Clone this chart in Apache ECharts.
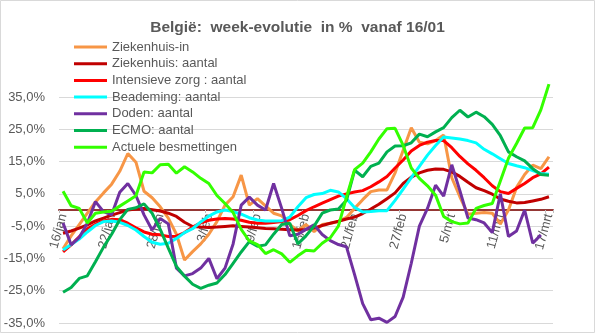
<!DOCTYPE html>
<html>
<head>
<meta charset="utf-8">
<script src="https://cdn.jsdelivr.net/npm/echarts@6/dist/echarts.min.js"></script>
<style>
html,body{margin:0;padding:0;background:#fff;}
#chart{width:595px;height:333px;}
</style>
</head>
<body>
<div id="chart"></div>
<script>
const categories = ['16/jan','17/jan','18/jan','19/jan','20/jan','21/jan','22/jan','23/jan','24/jan','25/jan','26/jan','27/jan','28/jan','29/jan','30/jan','31/jan',
'1/feb','2/feb','3/feb','4/feb','5/feb','6/feb','7/feb','8/feb','9/feb','10/feb','11/feb','12/feb','13/feb','14/feb','15/feb','16/feb','17/feb','18/feb','19/feb','20/feb','21/feb','22/feb','23/feb','24/feb','25/feb','26/feb','27/feb','28/feb',
'1/mrt','2/mrt','3/mrt','4/mrt','5/mrt','6/mrt','7/mrt','8/mrt','9/mrt','10/mrt','11/mrt','12/mrt','13/mrt','14/mrt','15/mrt','16/mrt','17/mrt'];

const ziekenhuisIn = [-12,-8,-4.5,-1,2.5,5.3,8,12,17.5,14.8, 5.8,3.8,1,-2.5,-7.5,-15.5,-12.9,-10.5,-7.5,-3.6, 1.5,4.1,10.8,1.5,3.5,1.3,-1,-1.8,-4.5,-6.5, -4.5,-6.7,-4.5,-4.1,-3.6,-2.3,0.5,3.2,5.7,6.2, 6.2,11.5,18.5,25.5,21,20.5,21.5,23.2,10,4.1, -1.3,-1,-0.8,-1,-4.3,0,7,11,13.9,12.8,16.5];
const ziekenhuisAantal = [-7.2,-6.5,-5.6,-4.6,-3.4,-2.5,-1.6,-0.8,0,0.3, 0.5,0.1,-0.3,-1,-2,-3.8,-5.1,-5.3,-5.4,-5.3, -5.1,-4.9,-5.1,-5.3,-5.5,-5.7,-5.8,-6,-6.1,-6.2, -6,-5.6,-4.8,-4.1,-3.5,-2.8,-2.2,-1.1,0.3,1.8, 3.5,5.3,8.2,10.2,11.5,12.3,12.7,12.6,11.8,10.4, 8.6,6.9,6,4.9,3.4,2.7,2.2,2.3,2.8,3.3,4.1];
const intensieveZorg = [-13,-10.8,-8.3,-5.8,-4.4,-3.4,-2.9,-3,-4.1,-5.5, -6.8,-7.5,-7.7,-8.2,-8.1,-7,-5.3,-4,-3.2,-2.8, -2.6,-2.8,-3.2,-3.8,-4.1,-4.1,-3.9,-3.6,-3,-1.7, -0.2,1,2.1,3.2,4.3,5,5.6,6,7.2,8.7, 10.4,13,15.5,18.3,20,21,21.5,21.5,19.3,16.6, 14.3,12.3,10,7.5,5.7,5.1,6.7,8.2,10,11.2,13.3];
const beademing = [-12.4,-10.7,-9,-6.8,-4.8,-3.6,-3.4,-3.8,-4.8,-6.2, -8.2,-10,-10.6,-10.3,-8.8,-7,-5.8,-3.7,-1.9,-0.6, 0,-0.5,-1.3,-2.4,-3.1,-3.4,-3.4,-3.3,-2.2,1, 3.8,4.8,5.1,6.1,5.6,3.5,0.8,-0.6,-0.5,-0.2, -0.2,3,6.5,10,13.5,17,20,22.6,22.3,22, 21.5,20.8,18.8,17.4,15.9,14.4,13.7,13.1,12.2,11.3,11.1];
const doden = [-4,-10.8,-8.5,-4.1,2.6,-0.5,-1.5,5.5,8.2,4.5, -1.5,-6.2,-2.6,-4.3,-18,-20.4,-19.7,-18,-15,-21.3, -18,-10.5,1.5,4,1.5,0,8.2,0.5,-8,-7.5, -6,-4.6,-7.6,-9.5,-10.7,-11.4,-20,-29,-34,-33.5, -34.8,-33,-27,-16.5,-5,0.5,7.7,4.3,14,6, -2.5,-3,-4,-7,5,-8.2,-6.5,0,-10.3,-7.7,null];
const ecmo = [-25.5,-24,-21.2,-20.4,-16,-11.5,-7.5,-3,0.2,0.7, 1.9,-1,-6,-11.8,-17.5,-20.5,-23,-24.3,-23.3,-22.6, -20,-16.5,-13,-9.8,-11.2,-10.8,-7.5,-4.5,-4.1,-10.5, -8,-5,-1,0,0.3,3,12.3,10.3,13.5,14.5, 18,19.8,19.9,20.8,23.5,22.7,24.2,25.5,28.6,30.9, 28.8,30.3,28.9,26.5,23,18,16.5,15.2,12.8,11,10.8];
const besmettingen = [5.8,1.3,0.5,-4,-1,-0.6,-0.4,1.2,2.8,4.4, 11.8,11.5,14,14.2,11.4,13.4,11.8,9.8,8.2,4.5, 2,-0.8,-6,-9.6,-10.7,-13.5,-12.3,-13.6,-16.2,-14.2, -12.5,-12.7,-10.3,-8.6,-5,4,12.5,14.5,18,22, 25.2,25.3,20,13,9.8,7.5,4.6,-2,-3.6,-4.3, -4,0.5,1.4,2,9,16,20.6,25.4,25.5,31,39];

const seriesNames = ['Ziekenhuis-in','Ziekenhuis: aantal','Intensieve zorg : aantal','Beademing: aantal','Doden: aantal','ECMO: aantal','Actuele besmettingen'];
const seriesData = [ziekenhuisIn, ziekenhuisAantal, intensieveZorg, beademing, doden, ecmo, besmettingen];
const seriesColors = ['#F79646','#C00000','#FF0000','#00FFFF','#7030A0','#00B050','#33FF00'];

const FONT = '"Liberation Sans", Arial, sans-serif';
const TXT = '#595959';
const Y_MIN = -35, Y_MAX = 35;
const GRID_TOP = 97, GRID_BOTTOM = 10, H = 333;

// place the category axis at value 0 (as in the original), via offset
const plotH = H - GRID_TOP - GRID_BOTTOM;
const zeroOffset = -plotH * (0 - Y_MIN) / (Y_MAX - Y_MIN);

const chart = echarts.init(document.getElementById('chart'), null, {renderer:'canvas'});
chart.setOption({
  animation:false,
  backgroundColor:'#fff',
  textStyle:{fontFamily:FONT},
  title:{
    text:'België:  week-evolutie  in %  vanaf 16/01',
    left:'center', top:15,
    textStyle:{fontFamily:FONT, fontSize:15.5, fontWeight:'bold', color:TXT}
  },
  graphic:[{type:'rect', shape:{x:0.5,y:0.5,width:594,height:332}, style:{fill:'none', stroke:'#d9d9d9', lineWidth:1}, silent:true}],
  legend:{
    orient:'vertical', left:74, top:40, padding:0,
    itemWidth:33, itemHeight:3, itemGap:2.7, icon:'rect',
    textStyle:{fontFamily:FONT, fontSize:13, color:TXT, lineHeight:14},
    data:seriesNames
  },
  grid:{left:59, right:42, top:GRID_TOP, bottom:GRID_BOTTOM, containLabel:false, outerBoundsMode:'none'},
  xAxis:{
    type:'category', data:categories, boundaryGap:true,
    position:'bottom', offset:zeroOffset,
    axisLine:{onZero:false, lineStyle:{color:'#953735', width:2}},
    axisTick:{show:true, interval:5, length:3, lineStyle:{color:'#bfbfbf'}},
    axisLabel:{interval:5, rotate:75, margin:4, fontFamily:FONT, fontSize:13, color:TXT},
    splitLine:{show:false}
  },
  yAxis:{
    type:'value', min:Y_MIN, max:Y_MAX, interval:10,
    axisLine:{show:false}, axisTick:{show:false},
    axisLabel:{margin:14, fontFamily:FONT, fontSize:13, color:TXT,
      formatter:function(v){return v.toFixed(1).replace('.',',')+'%';}},
    splitLine:{lineStyle:{color:'#d9d9d9', width:1}}
  },
  series: seriesNames.map(function(n,i){
    return {name:n, type:'line', data:seriesData[i], symbol:'none', smooth:false, clip:false,
      color:seriesColors[i], lineStyle:{width:3, color:seriesColors[i]}, z:2+i};
  })
});
</script>
</body>
</html>
